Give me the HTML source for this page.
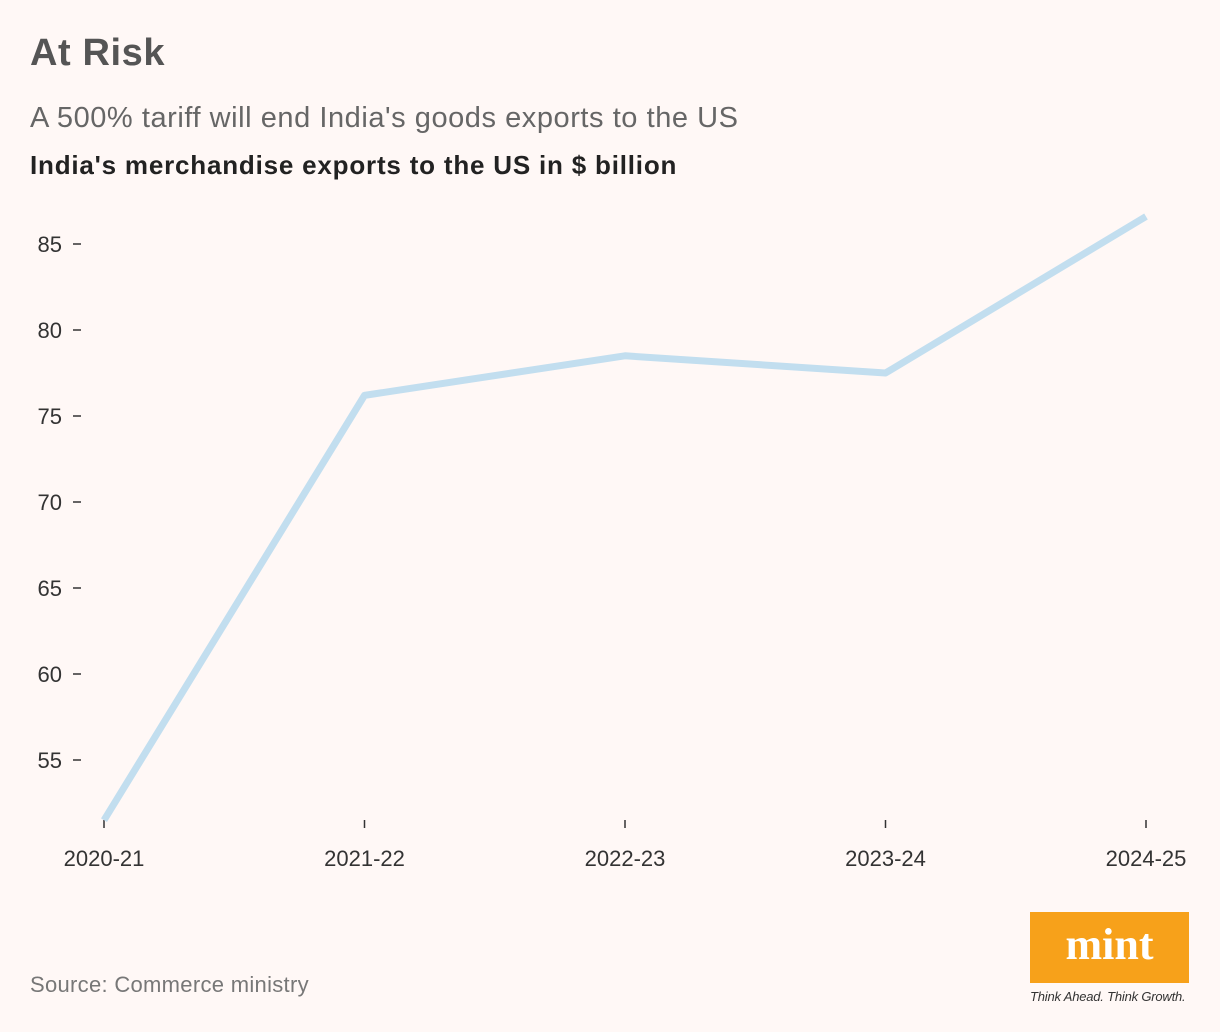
<!DOCTYPE html>
<html><head><meta charset="utf-8"><style>
body{margin:0;background:#fff8f6;font-family:"Liberation Sans",sans-serif;}
#wrap{position:relative;width:1220px;height:1032px;overflow:hidden;}
.t{position:absolute;white-space:nowrap;}
</style></head><body>
<div id="wrap">
<div class="t" style="left:30px;top:32px;font-size:38px;font-weight:bold;color:#555;letter-spacing:0.6px">At Risk</div>
<div class="t" style="left:30px;top:102px;font-size:29px;color:#666;letter-spacing:0.55px">A 500% tariff will end India's goods exports to the US</div>
<div class="t" style="left:30px;top:150px;font-size:26px;font-weight:bold;color:#222;letter-spacing:0.8px">India's merchandise exports to the US in $ billion</div>
<svg id="chart" width="1220" height="1032" style="position:absolute;left:0;top:0"></svg>
<div class="t" style="left:30px;top:972px;font-size:22px;color:#777;letter-spacing:0.3px">Source: Commerce ministry</div>
<div style="position:absolute;left:1030px;top:912px;width:159px;height:71px;background:#f7a11a;color:#fff;font-family:'Liberation Serif',serif;font-weight:bold;font-size:44px;text-align:center;line-height:66px">mint</div>
<div class="t" style="left:1030px;top:989px;font-size:13px;font-style:italic;color:#333;letter-spacing:-0.2px">Think Ahead. Think Growth.</div>
</div>
<script>
const categories=["2020-21","2021-22","2022-23","2023-24","2024-25"];
const values=[51.5,76.2,78.5,77.5,86.6];
const yTicks=[55,60,65,70,75,80,85];
const NS="http://www.w3.org/2000/svg";
const svg=document.getElementById('chart');
const x0=104,x1=1146;
function xs(i){return x0+(x1-x0)*i/(categories.length-1);}
function ys(v){return 244+(85-v)*17.2;}
function mk(tag,attrs){const e=document.createElementNS(NS,tag);for(const k in attrs)e.setAttribute(k,attrs[k]);svg.appendChild(e);return e;}
yTicks.forEach(v=>{
 const l=mk('line',{x1:73,x2:81,y1:ys(v),y2:ys(v),stroke:'#333','stroke-width':1.5});
 
 
 const t=mk('text',{x:62,y:ys(v)+8,'text-anchor':'end','font-size':22,fill:'#333','font-family':'Liberation Sans, sans-serif'});
 t.textContent=v;
 
 
});
categories.forEach((c,i)=>{
 const l=mk('line',{x1:xs(i),x2:xs(i),y1:820,y2:828,stroke:'#333','stroke-width':1.5});
 
 
 const t=mk('text',{x:xs(i),y:866,'text-anchor':'middle','font-size':22,fill:'#333','font-family':'Liberation Sans, sans-serif'});
 t.textContent=c;
 
 
});
const p=mk('polyline',{points:values.map((v,i)=>xs(i)+','+ys(v)).join(' '),fill:'none',stroke:'#c2deef','stroke-width':7,'stroke-linejoin':'round'});


</script>
</body></html>
